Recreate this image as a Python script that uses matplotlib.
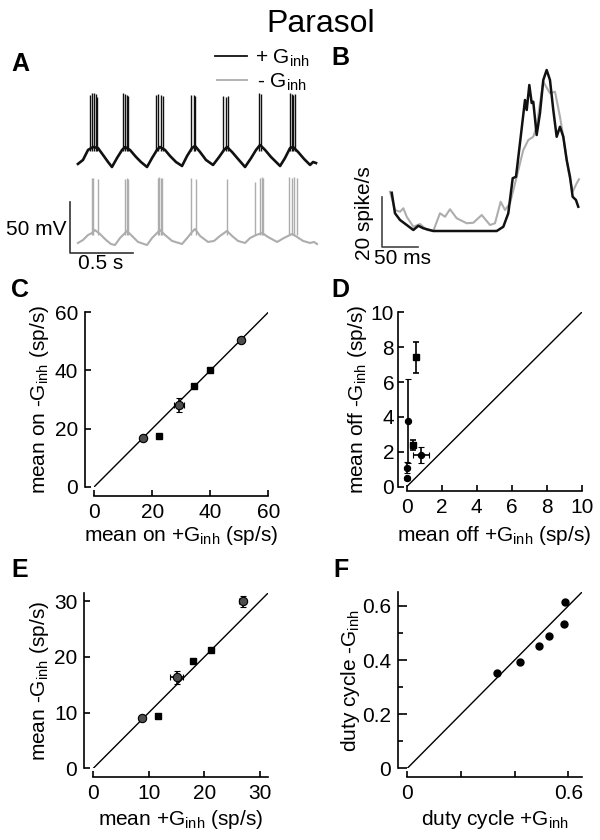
import matplotlib.pyplot as plt

plt.rcParams["font.family"] = ["Liberation Sans", "DejaVu Sans"]
plt.rcParams["mathtext.fontset"] = "custom"
plt.rcParams["mathtext.rm"] = "Liberation Sans"
plt.rcParams["mathtext.it"] = "Liberation Sans:italic"
plt.rcParams["mathtext.bf"] = "Liberation Sans:bold"

W, H = 600, 840
GINH = r"G$_{\rm inh}$"
GRAY = "#adadad"

# --- A: membrane potential (s, mV) ---
t_plus = [0.063, 0.103, 0.143, 0.183, 0.222, 0.262, 0.302, 0.333, 0.373, 0.413,
          0.437, 0.476, 0.524, 0.563, 0.611, 0.651, 0.690, 0.714, 0.754, 0.794,
          0.841, 0.889, 0.929, 0.968, 0.992, 1.032, 1.079, 1.135, 1.183, 1.222,
          1.246, 1.286, 1.333, 1.389, 1.437, 1.476, 1.508, 1.548, 1.595, 1.667,
          1.706, 1.746, 1.770, 1.810, 1.857, 1.905, 1.929, 1.952]
v_plus = [-58.0, -54.1, -44.3, -41.4, -42.4, -49.2, -56.1, -61.0, -52.2, -44.3,
          -41.4, -44.3, -51.2, -56.1, -61.0, -52.2, -44.3, -41.4, -44.3, -50.2,
          -56.1, -60.0, -50.2, -42.4, -40.4, -46.3, -54.1, -59.0, -51.2, -44.3,
          -41.4, -46.3, -53.1, -61.0, -52.2, -44.3, -39.4, -44.3, -51.2, -60.0,
          -52.2, -42.4, -41.4, -46.3, -53.1, -59.0, -56.1, -57.1]
spikes_plus = [0.159, 0.172, 0.193, 0.204, 0.217, 0.423, 0.437, 0.450, 0.463,
               0.680, 0.696, 0.722, 0.740, 0.964, 0.980, 0.992, 1.217, 1.236,
               1.252, 1.500, 1.513, 1.746, 1.760, 1.772, 1.786]
peaks_plus = [10, 12, 12, 11, 8, 12, 11, 10, 9, 10, 11, 10, 9, 10, 10, 9, 9, 8,
              9, 12, 11, 12, 11, 10, 11]

t_minus = [0.063, 0.103, 0.143, 0.175, 0.198, 0.238, 0.286, 0.325, 0.357, 0.397,
           0.429, 0.452, 0.492, 0.540, 0.611, 0.651, 0.683, 0.714, 0.754, 0.810,
           0.889, 0.937, 0.968, 0.992, 1.032, 1.095, 1.143, 1.190, 1.246, 1.286,
           1.333, 1.389, 1.429, 1.476, 1.524, 1.571, 1.643, 1.698, 1.730, 1.762,
           1.802, 1.849, 1.905, 1.937, 1.960]
v_minus = [-60.0, -57.1, -52.2, -50.2, -47.3, -51.2, -57.1, -61.0, -62.0, -55.1,
           -51.2, -48.2, -53.1, -59.0, -62.0, -55.1, -51.2, -47.3, -52.2, -58.0,
           -61.0, -54.1, -49.2, -46.3, -53.1, -59.0, -58.0, -53.1, -48.2, -53.1,
           -58.0, -60.0, -55.1, -52.2, -50.2, -54.1, -59.0, -55.1, -53.1, -51.2,
           -54.1, -58.0, -60.0, -59.0, -61.0]
spikes_minus = [0.172, 0.185, 0.220, 0.437, 0.450, 0.458, 0.696, 0.706, 0.722,
                0.733, 0.960, 0.996, 1.248, 1.468, 1.508, 1.521, 1.534, 1.740,
                1.764, 1.780, 1.799]
peaks_minus = [4, 4, 3, 3, 4, 3, 4, 5, 4, 4, 4, 3, 3, 0, 4, 5, 4, 5, 4, 5, 4]

# --- B: firing rate (ms, spike/s) ---
tb_plus = [3.8, 8.3, 15.3, 24.6, 33.8, 40.7, 47.6, 61.5, 149.6, 158.8, 165.7,
           171.8, 176.4, 181.9, 188.9, 191.3, 194.9, 198.2, 200.4, 205.1, 209.7,
           214.3, 219.0, 223.6, 228.2, 232.9, 237.5, 242.1, 246.8, 251.4, 255.1,
           259.7, 262.9]
rate_plus = [15.3, 7.1, 4.4, 2.4, 0.4, 2.1, 1.1, 0.0, 0.0, 1.7, 7.1, 21.1, 21.7,
             35.1, 52.4, 48.4, 58.4, 51.2, 51.7, 38.4, 47.1, 60.4, 64.4, 60.4,
             48.4, 37.7, 41.7, 37.7, 28.4, 21.7, 13.7, 12.4, 9.7]
tb_minus = [1.4, 8.3, 15.3, 19.9, 24.6, 33.8, 43.1, 52.4, 61.5, 70.8, 77.8, 84.7,
            94.0, 107.9, 117.1, 128.8, 140.3, 147.2, 155.1, 161.1, 168.1, 177.4,
            186.5, 193.5, 200.4, 205.1, 209.7, 214.3, 223.6, 230.6, 237.5, 242.1,
            249.0, 255.1, 260.7, 263.9]
rate_minus = [15.7, 8.4, 7.7, 9.1, 5.7, 1.7, 2.8, 0.4, 0.0, 7.1, 5.7, 8.7, 5.1,
              3.1, 3.3, 6.4, 2.4, 3.1, 11.7, 8.4, 11.1, 21.7, 32.4, 36.4, 37.7,
              41.7, 51.1, 59.7, 55.1, 55.7, 45.7, 37.7, 24.4, 15.7, 19.1, 20.7]

# --- C: mean on ---
on_plus = [16.9, 22.3, 29.2, 34.4, 39.9, 50.5]
on_plus_err = [0.8, 0.3, 1.6, 0.3, 0.3, 1.0]
on_minus = [16.6, 17.5, 28.1, 34.6, 40.1, 50.5]
on_minus_err = [0.8, 0.6, 2.4, 0.3, 0.3, 1.0]
on_marker = ["o", "s", "o", "s", "s", "o"]

# --- D: mean off ---
off_plus = [0.53, 0.10, 0.34, 0.80, 0.00, 0.00]
off_plus_err = [0.05, 0.03, 0.08, 0.45, 0.02, 0.02]
off_minus = [7.42, 3.77, 2.39, 1.82, 1.10, 0.48]
off_minus_err = [0.90, 2.40, 0.30, 0.45, 0.30, 0.10]
off_marker = ["s", "o", "s", "o", "o", "o"]

# --- E: mean ---
mean_plus = [8.7, 11.6, 15.0, 18.0, 21.2, 26.9]
mean_plus_err = [0.5, 0.2, 1.2, 0.2, 0.2, 0.6]
mean_minus = [9.1, 9.3, 16.3, 19.3, 21.3, 30.0]
mean_minus_err = [0.5, 0.4, 1.1, 0.2, 0.2, 1.0]
mean_marker = ["o", "s", "o", "s", "s", "o"]

# --- F: duty cycle ---
duty_plus = [0.335, 0.420, 0.490, 0.529, 0.583, 0.589]
duty_minus = [0.351, 0.394, 0.452, 0.489, 0.532, 0.613]


def px_axes(fig, x0, y0, x1, y1):
    return fig.add_axes([x0 / W, 1 - y1 / H, (x1 - x0) / W, (y1 - y0) / H])


def fig_text(fig, x, y, s, **kw):
    fig.text(x / W, 1 - y / H, s, **kw)


def style_axes(ax, lim, ticks, ylabel_x, xlabel_y, xlabel_x=0.5, bottom_off=6.5,
               ypad=5):
    ax.set_xlim(0, lim)
    ax.set_ylim(0, lim)
    for side in ("top", "right"):
        ax.spines[side].set_visible(False)
    ax.spines["left"].set_position(("outward", 6.5))
    ax.spines["bottom"].set_position(("outward", bottom_off))
    for side in ("left", "bottom"):
        ax.spines[side].set_linewidth(1.2)
    ax.set_xticks(ticks)
    ax.set_yticks(ticks)
    ax.tick_params(direction="in", length=4.5, width=1.2, labelsize=15, pad=5)
    ax.tick_params(axis="y", pad=ypad)
    ax.yaxis.set_label_coords(ylabel_x, 0.5)
    ax.xaxis.set_label_coords(xlabel_x, xlabel_y)
    ax.plot([0, lim], [0, lim], color="black", lw=1.0, zorder=1)


def draw_points(ax, xs, ys, xerr, yerr, markers, circle_size=6.0,
                circle_fill="0.3"):
    for x, y, xe, ye, m in zip(xs, ys, xerr, yerr, markers):
        if m == "o":
            cont = ax.errorbar(x, y, xerr=xe, yerr=ye, fmt="o", ms=circle_size,
                               mfc=circle_fill, mec="black", mew=0.8,
                               ecolor="black", elinewidth=1.2, capsize=2,
                               capthick=1.2, zorder=3)
        else:
            cont = ax.errorbar(x, y, xerr=xe, yerr=ye, fmt="s", ms=4.5,
                               mfc="black", mec="black", ecolor="black",
                               elinewidth=1.2, capsize=2, capthick=1.2,
                               zorder=3)
        for art in cont.get_children():
            art.set_clip_on(False)


fig = plt.figure(figsize=(6, 8.4), dpi=100)

fig_text(fig, 321, 32, "Parasol", fontsize=23, ha="center", va="baseline")
for letter, x, y in [("A", 11, 71), ("B", 331, 65), ("C", 11, 297),
                     ("D", 331, 297), ("E", 11, 577), ("F", 333, 577)]:
    fig_text(fig, x, y, letter, fontsize=18, fontweight="bold", va="baseline")

# panel A
axA = px_axes(fig, 55, 85, 330, 275)
axA.axis("off")
axA.set_xlim(-0.119, 2.063)
axA.set_ylim(-166.9, 19.4)
offset = -75.5
axA.plot(t_plus, v_plus, color="#111111", lw=1.9, solid_joinstyle="round")
axA.vlines(spikes_plus, -45, peaks_plus, color="#111111", lw=1.0)
axA.plot(t_minus, [v + offset for v in v_minus], color=GRAY, lw=1.5)
axA.vlines(spikes_minus, -52 + offset, [p + offset for p in peaks_minus],
           color=GRAY, lw=1.0)
axA.plot([0, 0, 0.5], [-95, -145, -145], color="#333333", lw=1.2)
axA.text(-0.024, -122.7, "50 mV", fontsize=15, ha="right", va="center")
axA.text(0.242, -146.5, "0.5 s", fontsize=15, ha="center", va="top")

# legend for A
fig.add_artist(plt.Line2D([215 / W, 247 / W], [1 - 56 / H, 1 - 56 / H],
                          color="#111111", lw=1.3))
fig.add_artist(plt.Line2D([217 / W, 247 / W], [1 - 80 / H, 1 - 80 / H],
                          color=GRAY, lw=1.3))
fig_text(fig, 255, 64, "+ " + GINH, fontsize=15, va="baseline")
fig_text(fig, 257, 88, "- " + GINH, fontsize=15, va="baseline")

# panel B
axB = px_axes(fig, 350, 60, 590, 265)
axB.axis("off")
axB.set_xlim(-54.2, 279.2)
axB.set_ylim(-13.6, 68.4)
axB.plot(tb_minus, rate_minus, color=GRAY, lw=1.5)
axB.plot(tb_plus, rate_plus, color="#111111", lw=1.8)
axB.plot([-9.7, -9.7, 40.3], [13.6, -6.4, -6.4], color="#444444", lw=1.2)
axB.text(-34, 7.0, "20 spike/s", fontsize=15, rotation=90, ha="center",
         va="center")
axB.text(18.1, -7.0, "50 ms", fontsize=15, ha="center", va="top")

# panel C
axC = px_axes(fig, 94.3, 312.3, 268.3, 486.7)
style_axes(axC, 60, [0, 20, 40, 60], -0.246, -0.214)
draw_points(axC, on_plus, on_minus, on_plus_err, on_minus_err, on_marker)
axC.set_xlabel("mean on +" + GINH + " (sp/s)", fontsize=15)
axC.set_ylabel("mean on -" + GINH + " (sp/s)", fontsize=15)

# panel D
axD = px_axes(fig, 406.7, 312.3, 581.7, 486.7)
style_axes(axD, 10, [0, 2, 4, 6, 8, 10], -0.215, -0.214, xlabel_x=0.52,
           bottom_off=3, ypad=2.5)
draw_points(axD, off_plus, off_minus, off_plus_err, off_minus_err, off_marker,
            circle_size=4.5, circle_fill="black")
axD.set_xlabel("mean off +" + GINH + " (sp/s)", fontsize=15)
axD.set_ylabel("mean off -" + GINH + " (sp/s)", fontsize=15)

# panel E
axE = px_axes(fig, 93.3, 593.3, 267.8, 768.3)
style_axes(axE, 31.4, [0, 10, 20, 30], -0.242, -0.225)
draw_points(axE, mean_plus, mean_minus, mean_plus_err, mean_minus_err,
            mean_marker)
axE.set_xlabel("mean +" + GINH + " (sp/s)", fontsize=15)
axE.set_ylabel("mean -" + GINH + " (sp/s)", fontsize=15)

# panel F
axF = px_axes(fig, 407.3, 592.4, 581.7, 768.3)
style_axes(axF, 0.65, [0, 0.2, 0.4, 0.6], -0.26, -0.224)
axF.set_xticklabels(["0", "", "", "0.6"])
axF.set_yticklabels(["0", "0.2", "0.4", "0.6"])
axF.set_yticks([0.1, 0.3, 0.5], minor=True)
axF.tick_params(axis="y", which="major", length=6.5)
axF.tick_params(axis="y", which="minor", direction="in", length=3.5, width=1.2)
axF.plot(duty_plus, duty_minus, "o", ms=5, color="black", zorder=3)
axF.set_xlabel("duty cycle +" + GINH, fontsize=15)
axF.set_ylabel("duty cycle -" + GINH, fontsize=15)

fig.savefig("out.png", dpi=100)
